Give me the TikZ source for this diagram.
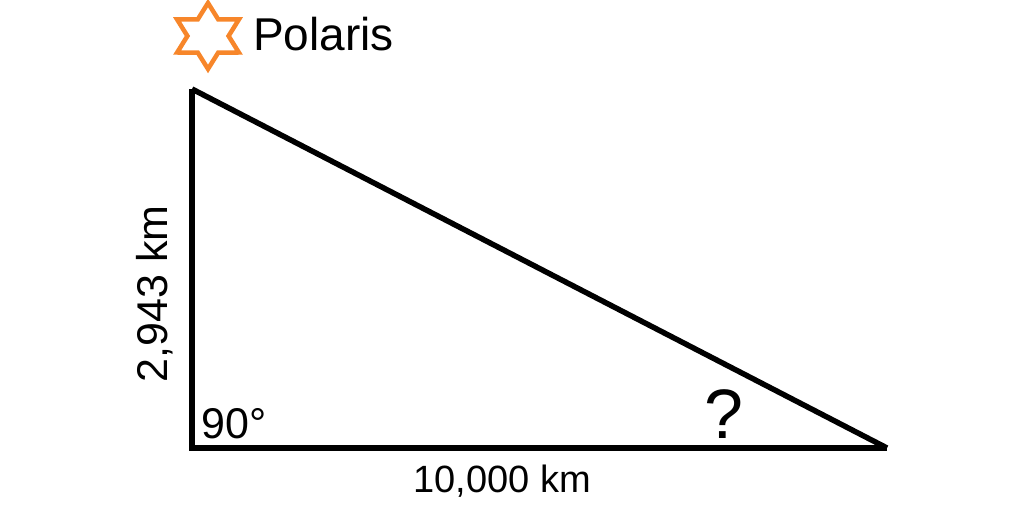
\documentclass[tikz,border=0pt]{standalone}
\usepackage{fontspec}
\setmainfont{Liberation Sans}
\usetikzlibrary{shapes.geometric}
\definecolor{starorange}{HTML}{F7862A}

\begin{document}
\begin{tikzpicture}[
    x=1pt, y=-1pt,
    side/.style={line width=6pt, line join=miter},
    hyp/.style={line width=5.5pt},
    label/.style={inner sep=0pt, anchor=base},
    starbox/.style={star, star points=6, star point ratio=1.732, draw=starorange, line width=4.5pt, inner sep=0pt, minimum size=66pt, xscale=1.08}
]

\useasboundingbox (0,0) rectangle (1024,519);

% Star and name
\node[starbox] (polaris) at (208,36) {};
\node[label, anchor=base west] (name) at (253,50) {\fontsize{46}{50}\selectfont Polaris};

% Triangle corners
\coordinate (top) at (192,89);
\coordinate (corner) at (192,448);
\coordinate (tip) at (887,448);

% Sides
\draw[side] (top) -- (corner) -- (tip);
\draw[hyp] (top) -- (tip);

% Labels
\node[label, rotate=90] (height) at (167,294) {\fontsize{43}{50}\selectfont 2,943 km};
\node[label] (base) at (502,492) {\fontsize{38}{44}\selectfont 10,000 km};
\node[label, anchor=base west] (right) at (201,438) {\fontsize{43}{50}\selectfont 90°};
\node[label] (angle) at (724,438) {\fontsize{70}{72}\selectfont ?};

\end{tikzpicture}
\end{document}
